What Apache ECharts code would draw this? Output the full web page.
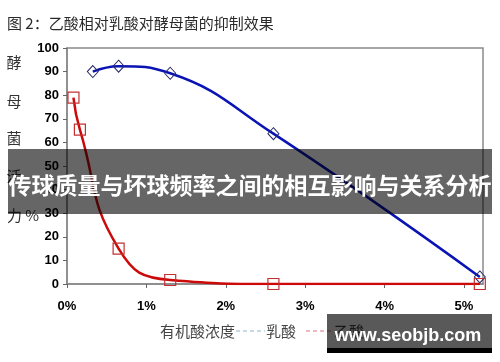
<!DOCTYPE html>
<html>
<head>
<meta charset="utf-8">
<script src="https://cdn.jsdelivr.net/npm/echarts@6/dist/echarts.min.js"></script>
<style>html,body{margin:0;padding:0;background:#fff}#c{width:500px;height:362px}</style>
</head>
<body>
<div id="c"></div>
<script>
const titleText = '图 2：乙酸相对乳酸对酵母菌的抑制效果';
const yAxisChars = ['酵', '母', '菌', '活'];
const yAxisLast = '力 %';
const xAxisName = '有机酸浓度';
const seriesNames = ['乳酸', '乙酸'];
const lacticConc = [0.325, 0.65, 1.3, 2.6, 5.2];
const lacticVals = [90, 92.3, 89.3, 63.7, 3];
const aceticConc = [0.08125, 0.1625, 0.65, 1.3, 2.6, 5.2];
const aceticVals = [79, 65.4, 15, 1.7, 0, 0];
const xTickLabels = ['0%', '1%', '2%', '3%', '4%', '5%'];
const bannerText = '传球质量与坏球频率之间的相互影响与关系分析';
const watermarkText = 'www.seobjb.com';

const chart = echarts.init(document.getElementById('c'), null, {renderer: 'canvas'});
const cjk = '"Noto Sans CJK SC", sans-serif';
const num = '"Liberation Sans", Arial, sans-serif';

const yCharY = [62, 101, 138, 176];
const graphics = [];
graphics.push({type: 'text', left: 7, top: 16, style: {text: titleText, font: '15px ' + cjk, fill: '#2a2a2a'}, z: 10});
yAxisChars.forEach((ch, i) => {
  graphics.push({type: 'text', x: 14, y: yCharY[i], style: {text: ch, font: '15px ' + cjk, fill: '#333', align: 'center', verticalAlign: 'middle'}, z: 10});
});
graphics.push({type: 'text', x: 7, y: 215, style: {text: yAxisLast, font: '15px ' + cjk, fill: '#333', align: 'left', verticalAlign: 'middle'}, z: 10});
graphics.push({type: 'text', x: 160, y: 331, style: {text: xAxisName, font: '15px ' + cjk, fill: '#444', verticalAlign: 'middle'}, z: 10});
graphics.push({type: 'line', shape: {x1: 236, y1: 331, x2: 265, y2: 331}, style: {stroke: '#8fb3c8', lineWidth: 1, lineDash: [4, 3]}, z: 10});
graphics.push({type: 'text', x: 266, y: 331, style: {text: seriesNames[0], font: '15px ' + cjk, fill: '#444', verticalAlign: 'middle'}, z: 10});
graphics.push({type: 'line', shape: {x1: 306, y1: 331, x2: 333, y2: 331}, style: {stroke: '#e07080', lineWidth: 1, lineDash: [4, 3]}, z: 10});
graphics.push({type: 'text', x: 334, y: 331, style: {text: seriesNames[1], font: '15px ' + cjk, fill: '#444', verticalAlign: 'middle'}, z: 10});
graphics.push({type: 'rect', shape: {x: 8, y: 149, width: 484, height: 65}, style: {fill: 'rgba(0,0,0,0.6)'}, z: 100});
graphics.push({type: 'text', x: 250, y: 185, style: {text: bannerText, font: 'bold 23px ' + cjk, fill: '#fff', align: 'center', verticalAlign: 'middle'}, z: 101});
graphics.push({type: 'rect', shape: {x: 327, y: 314, width: 165, height: 34}, style: {fill: 'rgba(0,0,0,0.65)'}, z: 100});
graphics.push({type: 'rect', shape: {x: 327, y: 348, width: 165, height: 5}, style: {fill: '#000'}, z: 100});
graphics.push({type: 'text', x: 408, y: 336, style: {text: watermarkText, font: 'bold 18px "Liberation Sans", Arial, sans-serif', fill: '#fff', align: 'center', verticalAlign: 'middle'}, z: 101});

chart.setOption({
  animation: false,
  backgroundColor: '#fff',
  grid: {left: 67, top: 48, right: 17, bottom: 78, show: true, borderColor: '#8a8a8a', borderWidth: 1.5, backgroundColor: 'transparent'},
  xAxis: {
    type: 'value', min: 0, max: 5.24, interval: 1,
    axisLine: {show: true, lineStyle: {color: '#888', width: 1.5}},
    axisTick: {show: true, length: 4, lineStyle: {color: '#666'}},
    splitLine: {show: false},
    axisLabel: {margin: 16, color: '#000', fontWeight: 'bold', fontSize: 13, fontFamily: num,
      formatter: v => (Math.abs(v - Math.round(v)) < 1e-6 && xTickLabels[Math.round(v)]) ? xTickLabels[Math.round(v)] : '',
      showMaxLabel: false}
  },
  yAxis: {
    type: 'value', min: 0, max: 100, interval: 10,
    axisLine: {show: true, lineStyle: {color: '#888', width: 1.5}},
    axisTick: {show: true, length: 4, lineStyle: {color: '#666'}},
    splitLine: {show: false},
    axisLabel: {margin: 8, color: '#000', fontWeight: 'bold', fontSize: 13, fontFamily: num}
  },
  series: [
    {
      name: seriesNames[0], type: 'line', smooth: 0.45,
      data: lacticConc.map((x, i) => [x, lacticVals[i]]),
      symbol: 'diamond', symbolSize: [11, 12],
      lineStyle: {color: '#0a14b4', width: 2.5},
      itemStyle: {color: 'rgba(0,0,0,0)', borderColor: '#2a2a6a', borderWidth: 1},
      z: 3
    },
    {
      name: seriesNames[1], type: 'line', smooth: 0.5,
      data: aceticConc.map((x, i) => [x, aceticVals[i]]),
      symbol: 'rect', symbolSize: 11,
      lineStyle: {color: '#cc0a0a', width: 2.5},
      itemStyle: {color: 'rgba(0,0,0,0)', borderColor: '#c43030', borderWidth: 1.2},
      z: 4
    }
  ],
  graphic: graphics
});
</script>
</body>
</html>
